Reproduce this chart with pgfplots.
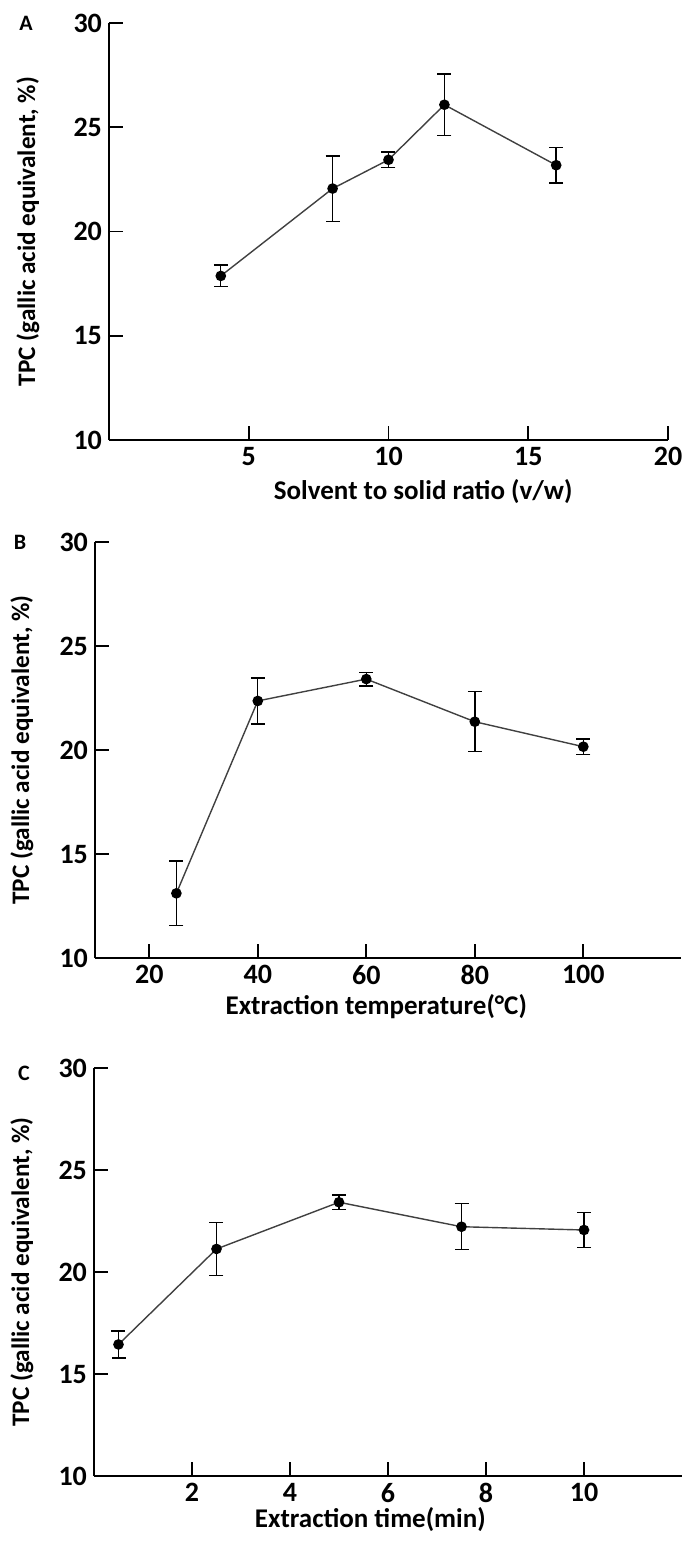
\documentclass[border=0pt]{standalone}
\usepackage{pgfplots}
\pgfplotsset{compat=1.18}
\usepackage{fontspec}
\setmainfont{Carlito}
\tikzset{lab/.style={font=\fontsize{13.5}{13.5}\selectfont\bfseries},
 ylab/.style={font=\fontsize{12.6}{12.6}\selectfont\bfseries}}
\begin{document}
\begin{tikzpicture}
\useasboundingbox (0,0) rectangle (341pt,-772pt);
\pgfplotsset{
 panel/.style={
  scale only axis,
  axis lines*=left,
  axis line style={line width=0.9pt},
  tick align=inside,
  major tick length=7pt,
  tick style={line width=0.9pt, black},
  ymin=10, ymax=30, ytick={10,15,20,25,30},
  /pgf/number format/assume math mode=true,
  tick label style={font=\fontsize{14}{14}\selectfont\bfseries},
  clip=false,
 },
 ser/.style={color=black!75, line width=0.7pt, mark=*, mark size=2.3pt,
  mark options={fill=black, draw=black},
  error bars/.cd, y dir=both, y explicit,
  error bar style={line width=0.7pt, black},
  error mark options={rotate=90, mark size=3.5pt, line width=0.7pt, black}},
}
% Panel A
\begin{axis}[panel, at={(54.5pt,-220pt)}, anchor=south west,
  width=279.5pt, height=208.5pt,
  xmin=0, xmax=20, xtick={5,10,15,20},
  xlabel={Solvent to solid ratio (v/w)},
  ylabel={TPC (gallic acid equivalent, \%)},
  every axis x label/.style={lab, at={(axis description cs:0.562,-0.1247)}, anchor=center},
  every axis y label/.style={ylab, at={(axis description cs:-0.145,0.5)}, rotate=90, anchor=center},
]
\addplot[ser] coordinates {
 (4,17.87) +- (0,0.52)
 (8,22.06) +- (0,1.57)
 (10,23.44) +- (0,0.37)
 (12,26.08) +- (0,1.47)
 (16,23.18) +- (0,0.85)
};
\end{axis}
% Panel B
\begin{axis}[panel, at={(47.5pt,-479pt)}, anchor=south west,
  width=293pt, height=208pt,
  xmin=10, xmax=118, xtick={20,40,60,80,100},
  xlabel={Extraction temperature(\textdegree C)},
  ylabel={TPC (gallic acid equivalent, \%)},
  every axis x label/.style={lab, at={(axis description cs:0.48,-0.1178)}, anchor=center},
  every axis y label/.style={ylab, at={(axis description cs:-0.1246,0.5)}, rotate=90, anchor=center},
]
\addplot[ser] coordinates {
 (25,13.11) +- (0,1.56)
 (40,22.36) +- (0,1.10)
 (60,23.41) +- (0,0.33)
 (80,21.36) +- (0,1.44)
 (100,20.16) +- (0,0.37)
};
\end{axis}
% Panel C
\begin{axis}[panel, at={(47pt,-738pt)}, anchor=south west,
  width=294pt, height=204pt,
  xmin=0, xmax=12, xtick={2,4,6,8,10},
  xlabel={Extraction time(min)},
  ylabel={TPC (gallic acid equivalent, \%)},
  every axis x label/.style={lab, at={(axis description cs:0.47,-0.1078)}, anchor=center},
  every axis y label/.style={ylab, at={(axis description cs:-0.1224,0.5)}, rotate=90, anchor=center},
]
\addplot[ser] coordinates {
 (0.5,16.45) +- (0,0.66)
 (2.5,21.13) +- (0,1.30)
 (5,23.42) +- (0,0.35)
 (7.5,22.22) +- (0,1.13)
 (10,22.06) +- (0,0.87)
};
\end{axis}
\node[font=\fontsize{11}{11}\selectfont\bfseries] at (13pt,-11.5pt) {A};
\node[font=\fontsize{11}{11}\selectfont\bfseries] at (10pt,-271pt) {B};
\node[font=\fontsize{11}{11}\selectfont\bfseries] at (12pt,-536.5pt) {C};
\end{tikzpicture}
\end{document}
